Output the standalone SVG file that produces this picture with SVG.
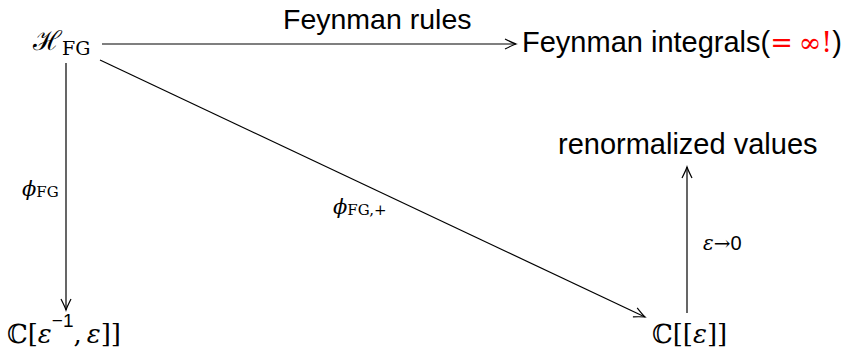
<svg xmlns="http://www.w3.org/2000/svg" width="853" height="351" viewBox="0 0 853 351">
<style>
.sans{font-family:"Liberation Sans",Arial,sans-serif;fill:#000}
.math{font-family:"DejaVu Serif","Liberation Serif",serif;fill:#000}
.it{font-style:italic}
.edge{stroke:#000;stroke-width:1.2;fill:none}
.red{fill:#ff0000}
</style>
<defs>
<marker id="to" markerUnits="userSpaceOnUse" markerWidth="16" markerHeight="12" refX="0" refY="0" viewBox="-13 -6 16 12" orient="auto" overflow="visible">
<path d="M-11,-5 Q-3,-1 0,0 Q-3,1 -11,5" fill="none" stroke="#000" stroke-width="1.2"/>
</marker>
</defs>
<rect width="853" height="351" fill="#fff"/>
<g id="connectors">
<line class="edge" x1="102" y1="44" x2="516" y2="44" marker-end="url(#to)"/>
<line class="edge" x1="66" y1="63" x2="66" y2="310" marker-end="url(#to)"/>
<line class="edge" x1="100" y1="60" x2="645" y2="317" marker-end="url(#to)"/>
<line class="edge" x1="687" y1="313" x2="687" y2="167" marker-end="url(#to)"/>
<text class="sans" x="283" y="29" font-size="28.5">Feynman rules</text>
<text class="math" x="22" y="196" font-size="21"><tspan class="it">ϕ</tspan><tspan font-size="15" dy="1">FG</tspan></text>
<text class="math" x="333" y="214" font-size="21"><tspan class="it">ϕ</tspan><tspan font-size="15" dy="1">FG,+</tspan></text>
<text x="703" y="250" font-size="20"><tspan class="math it">ε</tspan><tspan class="math">→</tspan><tspan class="sans">0</tspan></text>
</g>
<g id="node-hfg">
<text class="math" x="33" y="50" font-size="27">ℋ<tspan font-size="19" dy="5">FG</tspan></text>
</g>
<g id="node-integrals">
<text class="sans" x="522" y="52" font-size="29">Feynman integrals(<tspan class="math red" font-size="27">=</tspan><tspan class="math red" font-size="27" dx="6">∞!</tspan>)</text>
</g>
<g id="node-laurent">
<text class="math" x="7" y="343" font-size="26">ℂ[<tspan class="it">ε</tspan><tspan class="sans" font-size="19" dy="-16">−1</tspan><tspan dy="16">,</tspan><tspan class="it" dx="5">ε</tspan>]]</text>
</g>
<g id="node-power">
<text class="math" x="652" y="343" font-size="26">ℂ[[<tspan class="it">ε</tspan>]]</text>
</g>
<g id="node-renorm">
<text class="sans" x="558" y="154" font-size="29">renormalized values</text>
</g>
</svg>
